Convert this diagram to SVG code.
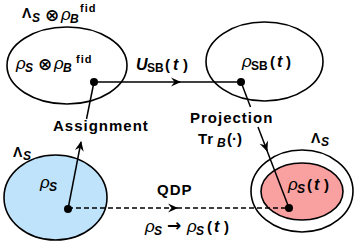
<svg xmlns="http://www.w3.org/2000/svg" width="361" height="249" viewBox="0 0 361 249">
<style>
.e{fill:none;stroke:#000;stroke-width:1.6}
.t{font-family:"Liberation Sans",Arial,sans-serif;font-weight:bold;fill:#000}
.lb{font-size:15px;letter-spacing:1px}
.m{font-size:16px;font-style:italic}
.r{font-size:17px;font-style:italic;font-weight:normal}
.sub{font-size:12px;font-style:italic}
.sup{font-size:11px;letter-spacing:1px}
.up{font-style:normal}
.o{font-family:"DejaVu Sans",sans-serif;font-weight:bold;font-size:17px}
.ln{stroke:#000;stroke-width:1.5;fill:none}
</style>
<defs>
<marker id="ah" viewBox="-10 -5 12 10" markerWidth="12" markerHeight="10" refX="0" refY="0" orient="auto" markerUnits="userSpaceOnUse">
<path d="M1,0 L-9,-4.5 L-5.5,0 L-9,4.5 Z" fill="#000"/>
</marker>
</defs>
<rect width="361" height="249" fill="#fff"/>

<g id="node-joint">
<ellipse class="e" cx="67" cy="65.5" rx="60" ry="38.5"/>
<text class="t" y="18"><tspan x="22" font-size="14px" class="up">Λ</tspan><tspan class="sub" x="32" y="22" font-size="13px">S</tspan><tspan class="o" x="45" y="21">⊗</tspan><tspan class="r" x="61" y="20">ρ</tspan><tspan class="sub" x="70" y="23">B</tspan><tspan class="sup" x="80" y="12">fid</tspan></text>
<text class="t" y="69"><tspan class="r" x="16">ρ</tspan><tspan class="sub" x="25" y="72" font-size="13px">S</tspan><tspan class="o" x="38" y="70">⊗</tspan><tspan class="r" x="54" y="69">ρ</tspan><tspan class="sub" x="63" y="72">B</tspan><tspan class="sup" x="76" y="63" font-size="12px">fid</tspan></text>
</g>

<g id="node-evolved">
<ellipse class="e" cx="264.5" cy="61.5" rx="58.5" ry="39.5"/>
<text class="t" y="67"><tspan class="r" x="242">ρ</tspan><tspan x="251" y="70" font-size="12px">SB</tspan><tspan x="270" y="67" font-size="15px">(</tspan><tspan class="m" x="277" y="67">t</tspan><tspan x="286" y="67" font-size="15px">)</tspan></text>
</g>

<g id="node-initial">
<ellipse cx="55.5" cy="197.5" rx="51.5" ry="42.5" fill="#bfe3fb" stroke="#000" stroke-width="1.6"/>
<text class="t" y="157"><tspan x="13" font-size="14px">Λ</tspan><tspan class="sub" x="23" y="160" font-size="13px">S</tspan></text>
<text class="t" y="188"><tspan class="r" x="40">ρ</tspan><tspan class="sub" x="49" y="191" font-size="13px">S</tspan></text>
</g>

<g id="node-final">
<ellipse class="e" cx="302" cy="191" rx="51" ry="41"/>
<ellipse cx="302" cy="191.5" rx="41" ry="28.5" fill="#f9a1a1" stroke="#000" stroke-width="1.6"/>
<text class="t" y="143"><tspan x="311" font-size="14px">Λ</tspan><tspan class="sub" x="321" y="146" font-size="13px">S</tspan></text>
<text class="t" y="190"><tspan class="r" x="288">ρ</tspan><tspan class="sub" x="297" y="193" font-size="13px">S</tspan><tspan x="307" y="190" font-size="15px">(</tspan><tspan class="m" x="314" y="190">t</tspan><tspan x="324" y="190" font-size="15px">)</tspan></text>
</g>

<g id="connectors">
<line class="ln" x1="94" y1="82" x2="180" y2="82" marker-end="url(#ah)"/>
<line class="ln" x1="178" y1="82" x2="241" y2="82"/>
<line class="ln" x1="68" y1="209" x2="81" y2="142" marker-end="url(#ah)"/>
<line class="ln" x1="86.5" y1="119" x2="94" y2="82"/>
<line class="ln" x1="241" y1="82" x2="250.5" y2="107"/>
<line class="ln" x1="258" y1="127" x2="267" y2="150.5" marker-end="url(#ah)"/>
<line class="ln" x1="266" y1="148" x2="289" y2="208"/>
<line class="ln" x1="68" y1="208" x2="177" y2="208" stroke-dasharray="5,3" marker-end="url(#ah)"/>
<line class="ln" x1="177" y1="208" x2="289" y2="208" stroke-dasharray="5,3"/>
<circle cx="94" cy="82" r="4"/>
<circle cx="241" cy="82" r="4"/>
<circle cx="68" cy="209" r="4"/>
<circle cx="289" cy="208" r="4"/>
<text class="t lb" x="53" y="131">Assignment</text>
<text class="t" y="70"><tspan class="m" x="136" font-size="16px">U</tspan><tspan x="147" y="72" font-size="12px">SB</tspan><tspan x="165" y="70" font-size="15px">(</tspan><tspan class="m" x="173" y="70">t</tspan><tspan x="183" y="70" font-size="15px">)</tspan></text>
<text class="t lb" x="190" y="123">Projection</text>
<text class="t" y="144"><tspan x="198" font-size="15px" letter-spacing="1px">Tr</tspan><tspan class="sub" x="217" y="147">B</tspan><tspan x="227" y="144" font-size="15px">(·)</tspan></text>
<text class="t lb" x="157" y="195">QDP</text>
<text class="t" y="232"><tspan class="r" x="145">ρ</tspan><tspan class="sub" x="154" y="235" font-size="13px">S</tspan><tspan class="o" x="167" y="231" font-size="13px">→</tspan><tspan class="r" x="187" y="232">ρ</tspan><tspan class="sub" x="196" y="235" font-size="13px">S</tspan><tspan x="207" y="232" font-size="15px">(</tspan><tspan class="m" x="214" y="232">t</tspan><tspan x="224" y="232" font-size="15px">)</tspan></text>
</g>
</svg>
